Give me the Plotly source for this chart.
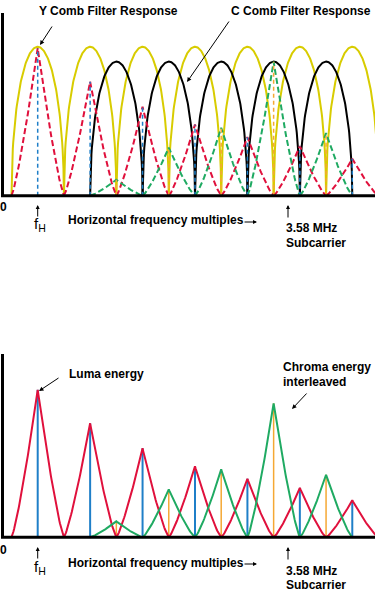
import numpy as np
import plotly.graph_objects as go

W, H = 375, 591

# ---------------- data ----------------
luma_harmonics = [1, 2, 3, 4, 5, 6, 7]
luma_energy = [0.99, 0.765, 0.597, 0.477, 0.393, 0.332, 0.248]
chroma_harmonics = [2.5, 3.5, 4.5, 5.5, 6.5]
chroma_energy = [0.107, 0.322, 0.456, 0.899, 0.42]
y_comb_centers = [1, 2, 3, 4, 5, 6, 7]
y_comb_gain = [1.0, 1.0, 1.0, 1.0, 1.0, 1.0, 1.0]
c_comb_centers = [2.5, 3.5, 4.5, 5.5, 6.5]
c_comb_gain = [0.9, 0.9, 0.9, 0.9, 0.9]

# ---------------- colours ----------------
YELLOW = "#d8cc00"
RED = "#e0103c"
BLUE = "#1f7fc8"
GREEN = "#1faa62"
ORANGE = "#f5a833"
FONT = "Liberation Sans, Arial, Helvetica, sans-serif"

HALF = 0.5  # half-width of each lobe in harmonic units


def arches(centers, gains):
    xs, ys = [], []
    u = np.linspace(-1, 1, 121)
    for c, g in zip(centers, gains):
        xs += list(c + HALF * u) + [None]
        ys += list(g * np.sqrt(np.clip(1 - u ** 2, 0, None))) + [None]
    return xs, ys


def cusps(centers, peaks):
    xs, ys = [], []
    u = np.linspace(-1, 1, 81)
    for c, p in zip(centers, peaks):
        xs += list(c + HALF * u) + [None]
        ys += list(p * (1 - np.abs(u)) ** 1.25) + [None]
    return xs, ys


def stems(centers, peaks):
    xs, ys = [], []
    for c, p in zip(centers, peaks):
        xs += [c, c, None]
        ys += [0, p, None]
    return xs, ys


fig = go.Figure()


def add(xy, color, width, dash, xa, ya):
    fig.add_trace(go.Scatter(x=xy[0], y=xy[1], mode="lines",
                             line=dict(color=color, width=width, dash=dash),
                             xaxis=xa, yaxis=ya, hoverinfo="skip",
                             showlegend=False))


# top chart: comb filter responses
add(arches(y_comb_centers, y_comb_gain), YELLOW, 2, "solid", "x", "y")
add(arches(c_comb_centers, c_comb_gain), "black", 2, "solid", "x", "y")
add(cusps(luma_harmonics, luma_energy), RED, 2, "6px,3px", "x", "y")
add(cusps(chroma_harmonics, chroma_energy), GREEN, 2, "6px,3px", "x", "y")
add(stems(luma_harmonics, luma_energy), BLUE, 1.5, "4px,3px", "x", "y")
add(stems(chroma_harmonics, chroma_energy), ORANGE, 1.5, "4px,3px", "x", "y")

# bottom chart: energy spectra
add(stems(chroma_harmonics, chroma_energy), ORANGE, 1.5, "solid", "x2", "y2")
add(stems(luma_harmonics, luma_energy), BLUE, 2, "solid", "x2", "y2")
add(cusps(luma_harmonics, luma_energy), RED, 2, "solid", "x2", "y2")
add(cusps(chroma_harmonics, chroma_energy), GREEN, 2, "solid", "x2", "y2")

# ---------------- geometry ----------------
XR = [0.281, 7.4334]
TOP_BASE, BOT_BASE, SCALE = 195.7, 537.3, 149.0
top_dom = [1 - 235 / H, 1]
bot_dom = [0, (H - 295) / H]
top_rng = [(TOP_BASE - 235) / SCALE, TOP_BASE / SCALE]
bot_rng = [(BOT_BASE - H) / SCALE, (BOT_BASE - 295) / SCALE]

hidden = dict(visible=False, showgrid=False, zeroline=False, fixedrange=True)
fig.update_layout(
    width=W, height=H, autosize=False,
    margin=dict(l=0, r=0, t=0, b=0, pad=0),
    paper_bgcolor="white", plot_bgcolor="white",
    xaxis=dict(domain=[0, 1], range=XR, anchor="y", **hidden),
    yaxis=dict(domain=top_dom, range=top_rng, anchor="x", **hidden),
    xaxis2=dict(domain=[0, 1], range=XR, anchor="y2", **hidden),
    yaxis2=dict(domain=bot_dom, range=bot_rng, anchor="x2", **hidden),
)

# axis lines
for yref, base, top in (("y", TOP_BASE, 13), ("y2", BOT_BASE, 354)):
    fig.add_shape(type="line", xref="paper", yref=yref, x0=1 / W, x1=1,
                  y0=0, y1=0, line=dict(color="black", width=3))
    fig.add_shape(type="line", xref="paper", yref=yref, x0=2.5 / W, x1=2.5 / W,
                  y0=0, y1=(base - top) / SCALE, line=dict(color="black", width=3))


# ---------------- annotations ----------------
def ptxt(text, px, py, size=12, xanchor="left", bold=True):
    fig.add_annotation(text=("<b>%s</b>" % text) if bold else text,
                       x=px / W, y=1 - py / H, xref="paper", yref="paper",
                       xanchor=xanchor, yanchor="middle", showarrow=False,
                       font=dict(family=FONT, size=size, color="black"))


def parrow(hx, hy, tx, ty, size=0.9, width=1):
    fig.add_annotation(text="", x=hx / W, y=1 - hy / H, xref="paper", yref="paper",
                       ax=tx - hx, ay=ty - hy, axref="pixel", ayref="pixel",
                       showarrow=True, arrowhead=2, arrowsize=size,
                       arrowwidth=width, arrowcolor="black",
                       standoff=0, startstandoff=0)


ptxt("Y Comb Filter Response", 37, 11.5)
parrow(40, 45, 53, 25)
ptxt("C Comb Filter Response", 229, 11.5)
parrow(187, 82, 230, 20)

ptxt("Luma energy", 67, 374)
parrow(39, 391, 60, 377)
ptxt("Chroma energy", 281, 367)
ptxt("interleaved", 281, 382)
parrow(292, 409, 308, 392)

for off in (0, 342):
    ptxt("0", 3.5, 207.5 + off, size=12, xanchor="center")
    parrow(37.7, 205 + off, 37.7, 218 + off, size=0.8)
    ptxt("f<sub>H</sub>", 40, 225 + off, size=15, xanchor="center", bold=False)
    ptxt("Horizontal frequency multiples", 66, 220.5 + off)
    parrow(257, 222 + off, 243, 222 + off, size=0.8)
    parrow(288, 205 + off, 288, 219 + off, size=0.8)
    ptxt("3.58 MHz", 284, 228.5 + off)
    ptxt("Subcarrier", 284, 242.5 + off)

fig.write_html(
    "out.html",
    config={"displayModeBar": False, "staticPlot": True},
    post_script=("document.body.style.margin='0';"
                 "document.body.style.padding='0';"
                 "document.body.style.overflow='hidden';"),
)
